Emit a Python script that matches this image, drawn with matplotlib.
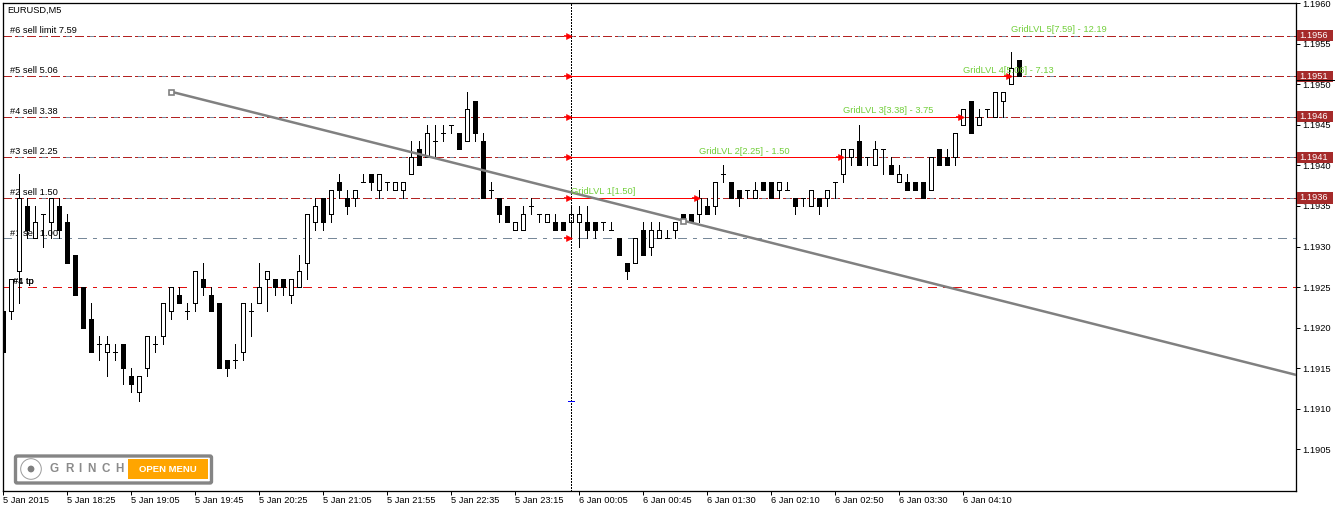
import matplotlib
matplotlib.use('Agg')
import matplotlib.pyplot as plt
from matplotlib.patches import Rectangle, FancyBboxPatch, Circle

W, H = 1335, 511
plt.rcParams['font.family'] = ['Liberation Sans', 'DejaVu Sans']

# candles, in pips above 1.1900
opens = [22,22,27,35,31,34,33,35,33,29,25,21,18,17,17,18,14,12,15,18,19,22,24,22,23,26,24,23,16,16,17,22,
         23,26,26,26,24,25,28,33,36,34,38,36,36,38,39,37,38,37,37,39,42,41,43,44,45,44,43,48,43,37,36,35,
         32,32,35,34,33,33,33,33,33,33,33,33,32,31,28,28,32,30,31,31,32,34,34,34,35,35,39,38,37,37,36,38,
         38,37,37,36,36,35,36,36,38,39,41,43,41,40,42,40,38,38,38,38,37,42,41,41,45,48,45,47,46,48,50,53]
highs = [22,26,39,36,35,34,36,36,34,29,25,23,19,19,18,18,15,14,19,19,23,25,25,23,27,28,25,23,16,18,23,23,
         28,27,26,26,26,29,34,36,36,37,39,37,37,39,39,39,38,38,38,43,43,45,45,45,45,44,49,48,44,38,36,35,
         33,35,36,34,34,34,33,35,35,35,33,33,33,31,28,31,33,33,33,32,33,34,34,37,36,38,40,38,37,37,38,38,
         38,38,38,36,36,37,36,37,38,42,42,45,41,43,42,41,40,39,38,38,41,42,42,44,47,48,47,47,49,49,54,53]
lows = [17,21,23,31,31,30,31,31,28,24,20,17,16,14,16,13,12,11,14,17,18,21,23,21,22,24,22,15,14,15,16,19,
        23,22,24,24,23,25,26,32,32,33,36,34,35,38,37,36,37,37,36,39,40,41,41,43,44,42,43,43,36,36,33,33,
        32,32,34,33,33,32,32,31,30,31,31,32,32,29,26,28,29,29,31,31,31,33,33,33,34,34,38,36,35,36,36,37,
        36,36,37,34,35,35,34,35,36,38,40,40,40,40,39,39,38,37,37,36,37,40,40,40,45,44,45,46,46,46,50,51]
closes = [17,26,36,32,33,34,36,32,28,24,20,17,18,18,17,15,13,14,19,18,23,25,23,22,27,25,22,15,15,16,23,22,
          25,27,25,25,26,27,34,35,33,37,37,35,37,38,38,39,38,38,38,41,40,44,43,44,45,42,47,44,36,37,34,33,
          33,34,35,34,34,32,32,34,34,32,32,33,32,29,27,31,29,32,32,31,33,33,33,36,34,38,39,36,36,37,37,37,
          36,38,37,35,36,37,35,37,38,42,42,40,41,42,42,39,39,37,37,36,41,40,40,44,47,44,46,47,49,49,52,51]

x_ticks = list(range(0, 128, 8))
x_labels = ['5 Jan 2015', '5 Jan 18:25', '5 Jan 19:05', '5 Jan 19:45', '5 Jan 20:25', '5 Jan 21:05',
            '5 Jan 21:55', '5 Jan 22:35', '5 Jan 23:15', '6 Jan 00:05', '6 Jan 00:45', '6 Jan 01:30',
            '6 Jan 02:10', '6 Jan 02:50', '6 Jan 03:30', '6 Jan 04:10']
y_ticks = [1.1905, 1.1910, 1.1915, 1.1920, 1.1925, 1.1930, 1.1935, 1.1940, 1.1945, 1.1950, 1.1955, 1.1960]

sell_levels = [1.1956, 1.1951, 1.1946, 1.1941, 1.1936]
sell_names = ['#6 sell limit 7.59', '#5 sell 5.06', '#4 sell 3.38', '#3 sell 2.25', '#2 sell 1.50']
first_level = 1.1931
tp_level = 1.1925
cross_bar = 71
blue_mark = 1.1911
bid_mark = 1.19505

# bar where each order was hit
hit_levels = [1.1951, 1.1946, 1.1941, 1.1936]
hit_bars = [126, 120, 105, 87]
grid_levels = [1.1936, 1.1941, 1.1946, 1.1951, 1.1956]
grid_bars = [71, 87, 105, 120, 126]
grid_names = ['GridLVL 1[1.50]', 'GridLVL 2[2.25] - 1.50', 'GridLVL 3[3.38] - 3.75',
              'GridLVL 4[5.06] - 7.13', 'GridLVL 5[7.59] - 12.19']

trend_x = [21, 85]
trend_y = [1.19491, 1.19332]

logo_letters = ['G', 'R', 'I', 'N', 'C', 'H']
logo_x = [50, 65, 78, 87, 101, 115]

PX = 0.72  # one pixel in points at dpi 100
BROWN = '#b22222'
BOX = '#a52a2a'
GRAY = '#778899'
TEXT = '#000000'
FS = 6.7

fig = plt.figure(figsize=(W / 100, H / 100), dpi=100, facecolor='white')
ax = fig.add_axes([2.5 / W, 1 - 490.5 / H, (1295.5 - 2.5) / W, (490.5 - 2.5) / H])
xmax = 161.56
ax.set_xlim(-0.0625, xmax)
ax.set_ylim(1.18999, 1.19601)

DASHDOT = (0, (9, 6, 3, 6))
DASHED = (0, (9, 3))
DOTS = (9, (3, 21))

# level lines, behind the candles
for lv in sell_levels:
    ax.axhline(lv, color=BROWN, lw=PX, ls=DASHED, zorder=1, antialiased=False)
    ax.axhline(lv, color=GRAY, lw=PX, ls=DOTS, zorder=1.1, antialiased=False)
ax.axhline(first_level, color=GRAY, lw=PX, ls=DASHDOT, zorder=1, antialiased=False)
ax.axhline(tp_level, color='#e01010', lw=PX, ls=DASHDOT, zorder=1, antialiased=False)

ytr = ax.get_yaxis_transform()
for lv, name in zip(sell_levels, sell_names):
    ax.annotate(name, (0, lv), xycoords=ytr, xytext=(5.2, 0.6), textcoords='offset points',
                fontsize=FS, color=TEXT, va='bottom', zorder=1.5)
ax.annotate('#1 sell 1.00', (0, first_level), xycoords=ytr, xytext=(5.2, 0.6), textcoords='offset points',
            fontsize=FS, color=TEXT, va='bottom', zorder=1.5)
for n in ['#1 tp', '#4 tp']:
    ax.annotate(n, (0, tp_level), xycoords=ytr, xytext=(7.5, 0.6), textcoords='offset points',
                fontsize=FS, color=TEXT, va='bottom', zorder=3.5)

# solid red stretches from the crosshair to the bar that hit the order
for lv, b in zip(hit_levels, hit_bars):
    ax.plot([cross_bar, b - 0.3], [lv, lv], color='red', lw=PX, zorder=1.2, antialiased=False)

# candles
xs = list(range(len(opens)))
o = [1.19 + v / 10000 for v in opens]
h = [1.19 + v / 10000 for v in highs]
l = [1.19 + v / 10000 for v in lows]
c = [1.19 + v / 10000 for v in closes]
ax.vlines(xs, l, h, color='black', lw=PX, zorder=2, antialiased=False)
face = ['white' if cl > op else 'black' for op, cl in zip(opens, closes)]
bottoms = [min(a, b) for a, b in zip(o, c)]
heights = [abs(a - b) for a, b in zip(o, c)]
ax.bar(xs, heights, bottom=bottoms, width=0.62, color=face, edgecolor='black',
       linewidth=PX, zorder=3, antialiased=False)

# crosshair
ax.axvline(cross_bar, color='black', lw=PX, ls=(0, (2, 2)), zorder=4, antialiased=False)
ax.plot([cross_bar - 0.38, cross_bar + 0.38], [blue_mark, blue_mark], color='blue', lw=PX, zorder=5,
        antialiased=False)

# entry arrows
arrow_bars = [cross_bar] * 6 + hit_bars
arrow_levels = sell_levels + [first_level] + hit_levels
ax.plot([b - 0.28 for b in arrow_bars], arrow_levels, ls='none', marker='>', ms=4.4,
        mfc='red', mec='red', mew=0.4, zorder=6)
ax.plot([b - 0.6 for b in arrow_bars], arrow_levels, ls='none', marker='_', ms=3.2,
        mec='red', mew=1.2, zorder=6)

# trend line runs on to the right edge
slope = (trend_y[1] - trend_y[0]) / (trend_x[1] - trend_x[0])
ax.plot([trend_x[0], xmax], [trend_y[0], trend_y[0] + slope * (xmax - trend_x[0])],
        color='#808080', lw=1.8, zorder=7)
ax.plot(trend_x, trend_y, ls='none', marker='s', ms=3.6, mfc='white', mec='#808080', mew=1.2, zorder=8)

for lv, b, name in zip(grid_levels, grid_bars, grid_names):
    ax.annotate(name, (b, lv), xytext=(-0.3, 1.2), textcoords='offset points', fontsize=FS,
                color='#72cf3a', va='bottom', ha='left', zorder=9)

ax.set_xticks(x_ticks)
ax.set_xticklabels(x_labels, ha='left', fontsize=FS)
ax.set_yticks(y_ticks)
ax.set_yticklabels(['%.4f' % t for t in y_ticks], fontsize=FS)
ax.yaxis.tick_right()
ax.tick_params(axis='x', length=2.6, width=PX, pad=1.4, colors='black')
ax.tick_params(axis='y', length=3.0, width=PX, pad=1.6, colors='black')
for s in ax.spines.values():
    s.set_linewidth(PX * 1.3)

# price boxes on the right axis
for lv in sell_levels:
    ax.add_patch(Rectangle((1.0008, lv - 0.00007), 0.0285, 0.00014, transform=ytr, fc=BOX, ec='none',
                           clip_on=False, zorder=10))
    ax.text(1.0032, lv, '%.4f' % lv, transform=ytr, color='white', fontsize=FS, va='center', ha='left',
            clip_on=False, zorder=11)
ax.plot([1.0, 1.03], [bid_mark, bid_mark], transform=ytr, color='black', lw=PX, clip_on=False, zorder=10,
        antialiased=False)

# title and logo, placed in screen pixels
ov = fig.add_axes([0, 0, 1, 1])
ov.set_xlim(0, W)
ov.set_ylim(H, 0)
ov.axis('off')
ov.patch.set_alpha(0)
ov.text(7, 10.5, 'EURUSD,M5', fontsize=FS, color=TEXT, va='center', ha='left')
ov.add_patch(FancyBboxPatch((15.5, 456), 196, 27, boxstyle='round,pad=0,rounding_size=1.5',
                            fc='white', ec='#858585', lw=2.4))
ov.add_patch(Circle((31, 469), 10.3, fc='white', ec='#9a9a9a', lw=0.7))
ov.add_patch(Circle((31, 469), 3.4, fc='#808080', ec='none'))
for ch, lx in zip(logo_letters, logo_x):
    ov.text(lx, 469, ch, fontsize=8.4, fontweight='bold', color='#8b8b8b', va='center', ha='left')
ov.add_patch(Rectangle((128, 459), 80, 20, fc='#ffa500', ec='none'))
ov.text(168, 469.5, 'OPEN MENU', fontsize=6.8, fontweight='bold', color='white', va='center', ha='center')

fig.savefig('out.png', dpi=100)
